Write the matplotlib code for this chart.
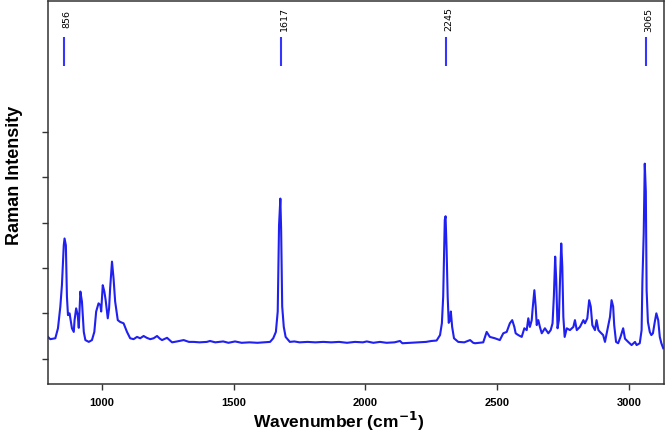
import numpy as np
import matplotlib
matplotlib.use("Agg")
import matplotlib.pyplot as plt

plt.rcParams['font.family'] = ['Liberation Sans', 'DejaVu Sans']

# spectrum (wavenumber in cm-1, intensity in arbitrary units)
wavenumber = [795, 804, 823, 833, 842, 848, 855, 858, 863, 867, 871, 877, 886, 893, 896,
              902, 908, 912, 918, 924, 931, 937, 950, 962, 971, 978, 987, 994, 997, 1003,
              1009, 1014, 1022, 1027, 1031, 1038, 1044, 1050, 1060, 1069, 1082, 1095, 1107,
              1120, 1133, 1145, 1158, 1170, 1183, 1196, 1209, 1220, 1228, 1247, 1266, 1285,
              1310, 1330, 1348, 1370, 1398, 1410, 1430, 1460, 1480, 1505, 1530, 1560, 1590,
              1615, 1638, 1650, 1660, 1667, 1672, 1677, 1680, 1684, 1690, 1697, 1713, 1730,
              1750, 1780, 1810, 1840, 1870, 1900, 1930, 1960, 1990, 2005, 2030, 2055, 2080,
              2110, 2131, 2140, 2170, 2200, 2230, 2250, 2270, 2283, 2290, 2295, 2301, 2304,
              2308, 2312, 2316, 2321, 2324, 2329, 2336, 2352, 2375, 2397, 2409, 2416, 2447,
              2460, 2472, 2491, 2510, 2523, 2536, 2548, 2557, 2565, 2570, 2580, 2593, 2603,
              2612, 2618, 2624, 2631, 2634, 2641, 2646, 2650, 2656, 2662, 2669, 2681, 2694,
              2703, 2710, 2715, 2720, 2724, 2729, 2734, 2738, 2743, 2747, 2751, 2756, 2764,
              2776, 2789, 2795, 2802, 2814, 2827, 2833, 2842, 2849, 2855, 2861, 2871, 2877,
              2884, 2890, 2902, 2909, 2918, 2928, 2934, 2940, 2944, 2951, 2959, 2968, 2978,
              2985, 2997, 3010, 3023, 3029, 3041, 3048, 3051, 3056, 3060, 3064, 3067, 3072,
              3079, 3085, 3091, 3098, 3104, 3111, 3117, 3123, 3130]
intensity = [0.48, 0.43, 0.45, 0.67, 1.15, 1.62, 2.50, 2.65, 2.50, 1.37, 0.96, 1.00, 0.67, 0.59, 0.85,
             1.11, 0.96, 0.68, 1.48, 1.26, 0.59, 0.41, 0.37, 0.41, 0.59, 1.04, 1.22, 1.18, 1.04, 1.62,
             1.48, 1.29, 0.89, 1.11, 1.55, 2.14, 1.77, 1.26, 0.85, 0.81, 0.78, 0.59, 0.45,
             0.43, 0.48, 0.45, 0.50, 0.46, 0.43, 0.45, 0.50, 0.44, 0.41, 0.46, 0.36, 0.38,
             0.41, 0.37, 0.37, 0.36, 0.37, 0.39, 0.36, 0.38, 0.35, 0.38, 0.35, 0.36, 0.35,
             0.36, 0.37, 0.45, 0.59, 1.04, 2.94, 3.53, 2.83, 1.15, 0.70, 0.48, 0.37, 0.38,
             0.36, 0.37, 0.36, 0.37, 0.36, 0.37, 0.35, 0.37, 0.36, 0.38, 0.35, 0.37, 0.35,
             0.36, 0.39, 0.34, 0.35, 0.36, 0.37, 0.39, 0.40, 0.52, 0.78, 1.37, 3.06, 3.14,
             2.39, 1.37, 0.79, 0.85, 1.04, 0.70, 0.45, 0.37, 0.36, 0.41, 0.35, 0.34, 0.36,
             0.59, 0.48, 0.45, 0.41, 0.56, 0.59, 0.78, 0.85, 0.70, 0.56, 0.52, 0.48, 0.67,
             0.63, 0.89, 0.70, 0.85, 1.07, 1.51, 1.15, 0.74, 0.85, 0.70, 0.56, 0.67, 0.56,
             0.63, 0.78, 1.37, 2.25, 1.73, 0.67, 0.85, 1.66, 2.54, 2.03, 0.92, 0.48, 0.67,
             0.63, 0.70, 0.85, 0.63, 0.70, 0.85, 0.78, 0.89, 1.29, 1.15, 0.74, 0.63, 0.85,
             0.63, 0.59, 0.52, 0.37, 0.63, 0.92, 1.29, 1.15, 0.74, 0.37, 0.34, 0.48, 0.67,
             0.44, 0.37, 0.30, 0.37, 0.30, 0.34, 0.63, 1.70, 2.76, 4.30, 3.68, 1.51, 0.81,
             0.59, 0.52, 0.56, 0.81, 1.00, 0.85, 0.48, 0.34, 0.23]

# marked peaks: where the marker sits, and the text printed above it
peak_pos = [856, 1680, 2305, 3065]
peak_text = ['856', '1617', '2245', '3065']

x_ticks = [1000, 1500, 2000, 2500, 3000]
y_ticks = [0, 1, 2, 3, 4, 5]

blue = '#2020f0'

fig = plt.figure(figsize=(6.66, 4.33), dpi=100)
ax = fig.add_axes([0.072, 0.113, 0.925, 0.884])

ax.plot(wavenumber, intensity, color=blue, lw=1.5)

# peak markers and labels
ax.vlines(peak_pos, 6.45, 7.09, color='#3535ff', lw=1.5)
for p, t in zip(peak_pos, peak_text):
    ax.annotate(t, xy=(p, 7.48), xytext=(2, 0), textcoords='offset points',
                rotation=90, ha='center', va='center', fontsize=6.8,
                family=['DejaVu Sans'])

ax.set_xlim(795, 3133)
ax.set_ylim(-0.56, 7.88)
ax.set_xticks(x_ticks)
ax.set_yticks(y_ticks)
ax.set_yticklabels([])
for lbl in ax.get_xticklabels():
    lbl.set_fontweight('bold')
ax.tick_params(axis='both', direction='out', length=4, width=1, color='#333333',
               labelsize=8, pad=6)

for s in ax.spines.values():
    s.set_color('#333333')
    s.set_linewidth(1.1)

ax.set_xlabel('Wavenumber (cm$^{\\mathbf{-1}}$)', fontsize=12.5, fontweight='bold')
ax.xaxis.set_label_coords(0.471, -0.068)
ax.xaxis.label.set_va('top')
ax.set_ylabel('Raman Intensity', fontsize=13, fontweight='bold')
ax.yaxis.set_label_coords(-0.04, 0.545)

fig.savefig('out.png', dpi=100)
